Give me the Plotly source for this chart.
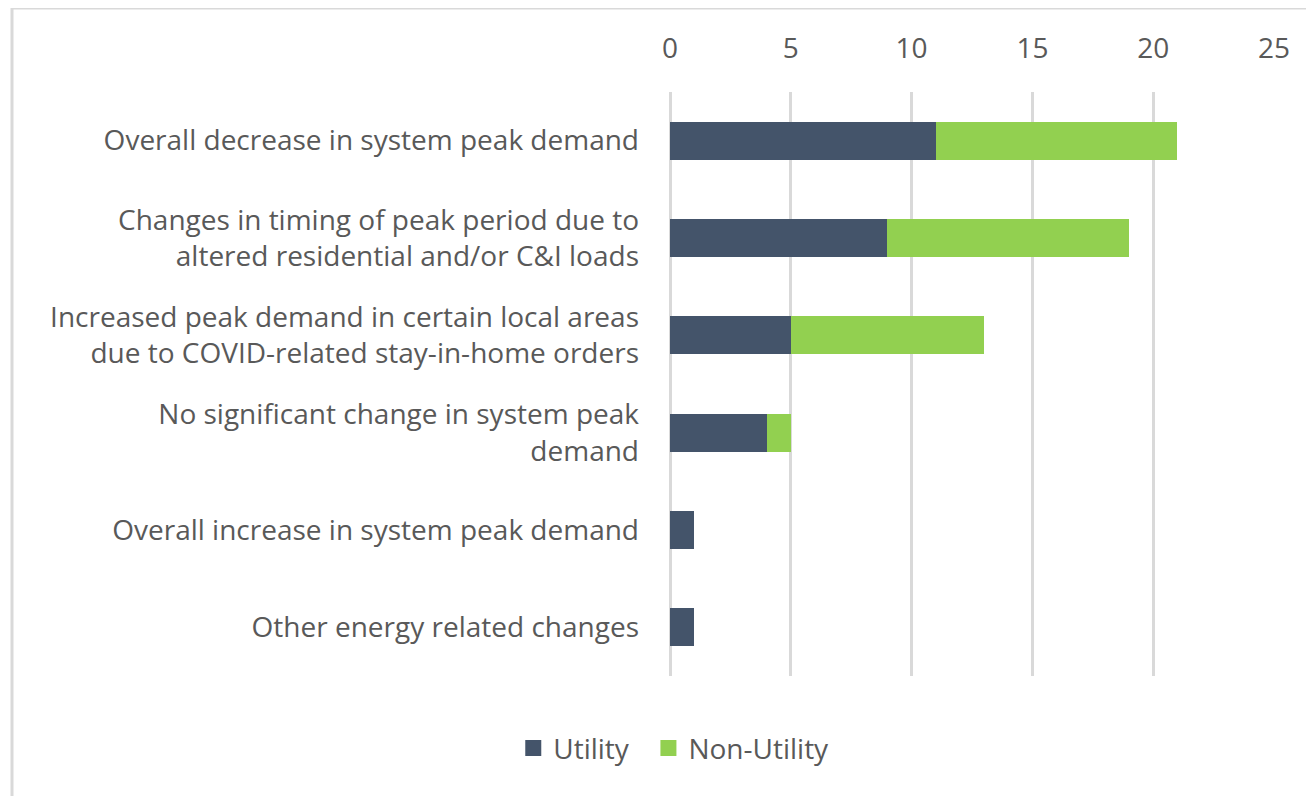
import plotly.graph_objects as go

categories = [
    "Overall decrease in system peak demand",
    "Changes in timing of peak period due to<br>altered residential and/or C&I loads",
    "Increased peak demand in certain local areas<br>due to COVID-related stay-in-home orders",
    "No significant change in system peak<br>demand",
    "Overall increase in system peak demand",
    "Other energy related changes",
]
utility = [11, 9, 5, 4, 1, 1]
non_utility = [10, 10, 8, 1, 0, 0]
x_ticks = [0, 5, 10, 15, 20, 25]
series_names = ["Utility", "Non-Utility"]
series_colors = ["#44546A", "#92D050"]

W, H = 1314, 796
ml, mt = 662, 84
pw, ph = 604, 584
mr, mb = W - ml - pw, H - mt - ph

fig = go.Figure()
for name, vals, color in zip(series_names, [utility, non_utility], series_colors):
    fig.add_trace(go.Bar(y=categories, x=vals, name=name, orientation="h", showlegend=False,
                         legendgroup=name,
                         marker=dict(color=color, line=dict(width=0)), width=0.39))
# legend entries with square swatches
for name, color in zip(series_names, series_colors):
    fig.add_trace(go.Scatter(x=[None], y=[None], mode="markers", name=name + "  ",
                             legendgroup=name,
                             marker=dict(symbol="square", size=18, color=color)))

font_family = "Open Sans, Lato, sans-serif"
text_color = "#595959"
fs = 28

def px_x(p):
    return (p - ml) / pw

def px_y(p):
    return (H - mb - p) / ph

fig.update_layout(
    width=W, height=H,
    barmode="stack",
    margin=dict(l=ml, r=mr, t=mt, b=mb),
    paper_bgcolor="white", plot_bgcolor="white",
    font=dict(family=font_family, size=fs, color=text_color),
    xaxis=dict(side="top", range=[0, 25], tickvals=x_ticks, showgrid=True,
               gridcolor="#D9D9D9", gridwidth=3, zeroline=True, zerolinecolor="#D9D9D9",
               zerolinewidth=3, showline=False,
               ticks="", ticklabelstandoff=27, tickfont=dict(size=fs, color=text_color)),
    yaxis=dict(categoryorder="array", categoryarray=categories, autorange="reversed",
               showgrid=False, zeroline=False, showline=False, ticks="",
               ticklabelstandoff=30, tickfont=dict(size=fs, color=text_color)),
    legend=dict(orientation="h", xref="container", yref="container", x=0.512, y=0.07,
                xanchor="center", yanchor="middle", font=dict(size=fs, color=text_color),
                itemwidth=30, traceorder="normal"),
    shapes=[dict(type="rect", xref="paper", yref="paper",
                 x0=px_x(4), x1=px_x(1330), y0=px_y(810), y1=px_y(0),
                 line=dict(color="#D9D9D9", width=3), fillcolor="rgba(0,0,0,0)", layer="below")],
)

fig.write_html("out.html")
